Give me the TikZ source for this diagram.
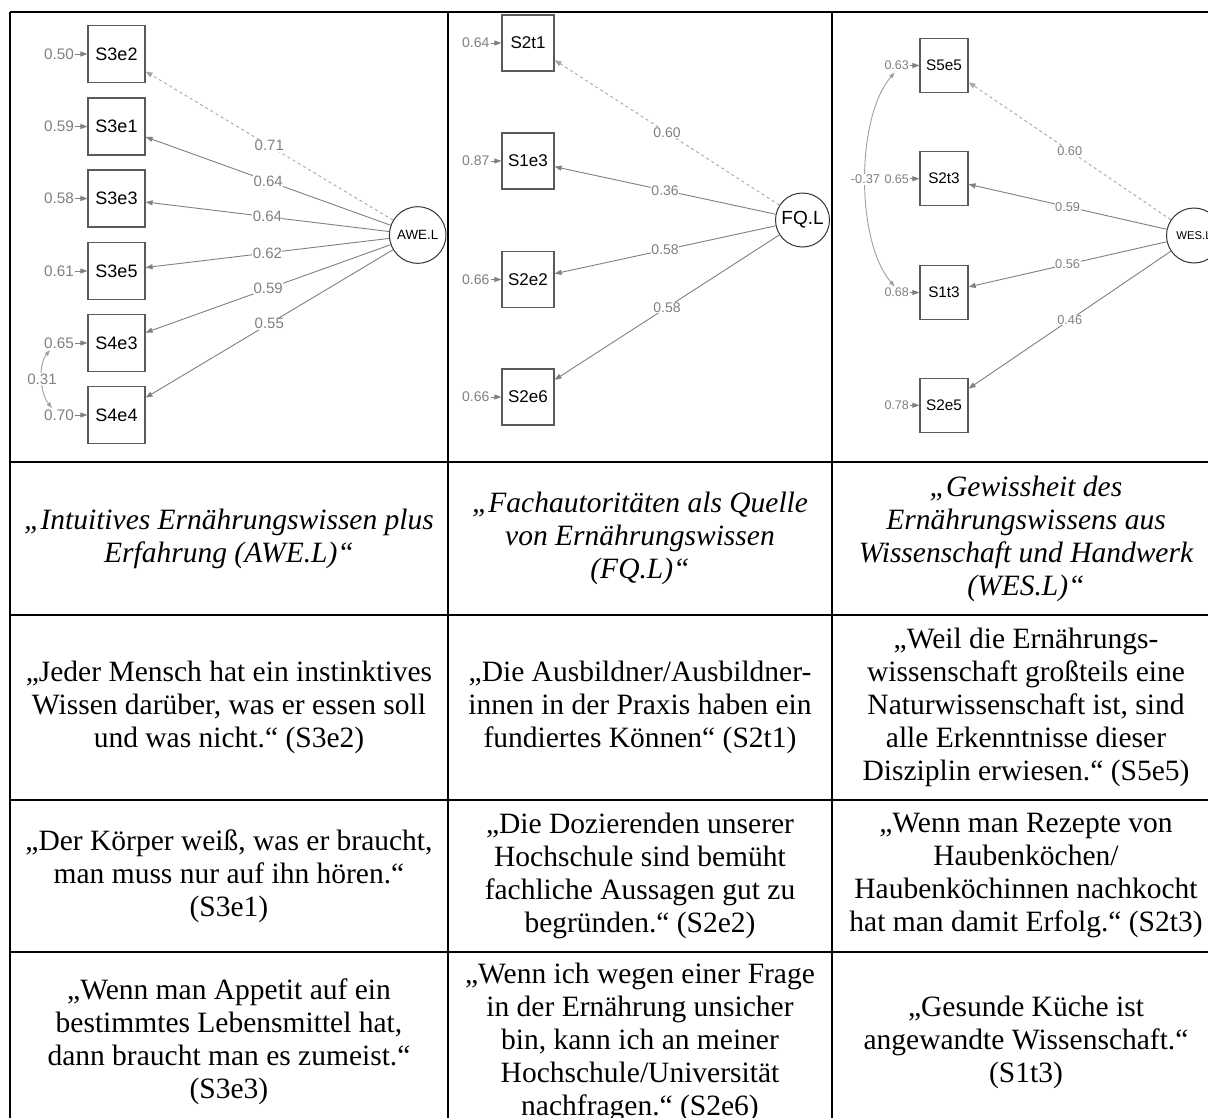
\documentclass[tikz,border=0pt]{standalone}
\usepackage{fontspec}
\setmainfont{Liberation Serif}
\setsansfont{Liberation Sans}
\usepackage{xcolor}
\usepackage{tikz}
\usetikzlibrary{calc,arrows.meta}
\definecolor{semgray}{HTML}{808080}
\definecolor{boxline}{HTML}{5A5A5A}
\newcommand{\semfont}[1]{\fontsize{#1}{#1}\selectfont\sffamily}
\tikzset{box/.style={draw=boxline,line width=1.2pt,inner sep=0pt},
  lat/.style={circle,draw=black!80,line width=1pt,inner sep=0pt},
  err/.style={text=semgray,inner sep=1pt},
  lod/.style={draw=semgray,line width=0.9pt,-{Triangle[length=7pt,width=5pt]}},
  lbl/.style={midway,fill=white,text=semgray,inner sep=0.5pt},
  cov/.style={draw=semgray!75,line width=0.9pt,{Triangle[length=6pt,width=4pt]}-{Triangle[length=6pt,width=4pt]}},
  rule/.style={line width=2.2pt},
  cell/.style={align=center,font=\fontsize{29.5}{33}\selectfont},
  head/.style={align=center,font=\fontsize{29.5}{33}\selectfont\itshape}}

\begin{document}
\begin{tikzpicture}[x=1pt,y=-1pt]
\useasboundingbox (0,0) rectangle (1208,1117);
\fill[white] (0,0) rectangle (1208,1117);
% table
\draw[rule] (10,12) -- (1220,12); \draw[rule] (10,12) -- (10,1125);
\draw[rule] (448,12) -- (448,1125); \draw[rule] (832,12) -- (832,1125);
\draw[rule] (10,462) -- (1220,462); \draw[rule] (10,615) -- (1220,615);
\draw[rule] (10,800) -- (1220,800); \draw[rule] (10,952) -- (1220,952);

% AWE.L
\begin{scope}[box/.append style={minimum width=57,minimum height=57,font=\semfont{18}},
  err/.append style={font=\semfont{15.3}},lbl/.append style={font=\semfont{15}}]
\node[lat,minimum size=56.6,font=\semfont{13.4}] (awe) at (417.7,235) {AWE.L};
\node[box] (s3e2) at (116.5,54) {S3e2}; \node[box] (s3e1) at (116.5,126.5) {S3e1};
\node[box] (s3e3) at (116.5,198.5) {S3e3}; \node[box] (s3e5) at (116.5,271) {S3e5};
\node[box] (s4e3) at (116.5,343) {S4e3}; \node[box] (s4e4) at (116.5,415) {S4e4};
\node[err] (a1) at (59,54) {0.50}; \node[err] (a2) at (59,126.5) {0.59};
\node[err] (a3) at (59,198.5) {0.58}; \node[err] (a4) at (59,271) {0.61};
\node[err] (a5) at (59,343) {0.65}; \node[err] (a6) at (59,415) {0.70};
\draw[lod] (a1) -- (s3e2); \draw[lod] (a2) -- (s3e1); \draw[lod] (a3) -- (s3e3);
\draw[lod] (a4) -- (s3e5); \draw[lod] (a5) -- (s4e3); \draw[lod] (a6) -- (s4e4);
\draw[lod,dashed,draw=semgray!70] (awe) -- node[lbl] {0.71} (s3e2);
\draw[lod] (awe) -- node[lbl] {0.64} (s3e1); \draw[lod] (awe) -- node[lbl] {0.64} (s3e3);
\draw[lod] (awe) -- node[lbl] {0.62} (s3e5); \draw[lod] (awe) -- node[lbl] {0.59} (s4e3);
\draw[lod] (awe) -- node[lbl] {0.55} (s4e4);
\draw[cov] ($(a5)+(-9,7)$) .. controls +(-12,15) and +(-12,-15) .. ($(a6)+(-7,-7)$) node[lbl] {0.31};
\end{scope}

% FQ.L
\begin{scope}[box/.append style={minimum width=52,minimum height=56,font=\semfont{17}},
  err/.append style={font=\semfont{14}},lbl/.append style={font=\semfont{14}}]
\node[lat,minimum size=54,font=\semfont{19}] (fq) at (802.5,220) {FQ.L};
\node[box] (s2t1) at (528,43) {S2t1}; \node[box] (s1e3) at (528,161) {S1e3};
\node[box] (s2e2) at (528,279.5) {S2e2}; \node[box] (s2e6) at (528,397) {S2e6};
\node[err] (f1) at (475.7,43) {0.64}; \node[err] (f2) at (475.7,161) {0.87};
\node[err] (f3) at (475.7,279.5) {0.66}; \node[err] (f4) at (475.7,397) {0.66};
\draw[lod] (f1) -- (s2t1); \draw[lod] (f2) -- (s1e3); \draw[lod] (f3) -- (s2e2); \draw[lod] (f4) -- (s2e6);
\draw[lod,dashed,draw=semgray!70] (fq) -- node[lbl] {0.60} (s2t1);
\draw[lod] (fq) -- node[lbl] {0.36} (s1e3); \draw[lod] (fq) -- node[lbl] {0.58} (s2e2);
\draw[lod] (fq) -- node[lbl] {0.58} (s2e6);
\end{scope}

% WES.L
\begin{scope}[box/.append style={minimum width=48,minimum height=54,font=\semfont{15.3}},
  err/.append style={font=\semfont{12.5}},lbl/.append style={font=\semfont{12.8}}]
\node[lat,minimum size=55,font=\semfont{11.3}] (wes) at (1194,235.5) {WES.L};
\node[box] (s5e5) at (944,65.5) {S5e5}; \node[box] (s2t3) at (944,178.7) {S2t3};
\node[box] (s1t3) at (944,292.5) {S1t3}; \node[box] (s2e5) at (944,405.3) {S2e5};
\node[err] (w1) at (896.7,65.5) {0.63}; \node[err] (w2) at (896.7,178.7) {0.65};
\node[err] (w3) at (896.7,292.5) {0.68}; \node[err] (w4) at (896.7,405.3) {0.78};
\draw[lod] (w1) -- (s5e5); \draw[lod] (w2) -- (s2t3); \draw[lod] (w3) -- (s1t3); \draw[lod] (w4) -- (s2e5);
\draw[lod,dashed,draw=semgray!70] (wes) -- node[lbl] {0.60} (s5e5);
\draw[lod] (wes) -- node[lbl] {0.59} (s2t3); \draw[lod] (wes) -- node[lbl] {0.56} (s1t3);
\draw[lod] (wes) -- node[lbl] {0.46} (s2e5);
\draw[cov] ($(w1)+(-2,7)$) .. controls +(-39,45) and +(-39,-45) .. ($(w3)+(-2,-6)$) node[lbl] {-0.37};
\end{scope}

% factor names
\node[head] (h1) at (229,538.5) {„Intuitives Ernährungswissen plus\\Erfahrung (AWE.L)“};
\node[head] (h2) at (640,538.5) {„Fachautoritäten als Quelle\\von Ernährungswissen\\(FQ.L)“};
\node[head] (h3) at (1026,538.5) {„Gewissheit des\\Ernährungswissens aus\\Wissenschaft und Handwerk\\(WES.L)“};
% items
\node[cell] (q11) at (229,707.5) {„Jeder Mensch hat ein instinktives\\Wissen darüber, was er essen soll\\und was nicht.“ (S3e2)};
\node[cell] (q12) at (640,707.5) {„Die Ausbildner/Ausbildner-\\innen in der Praxis haben ein\\fundiertes Können“ (S2t1)};
\node[cell] (q13) at (1026,707.5) {„Weil die Ernährungs-\\wissenschaft großteils eine\\Naturwissenschaft ist, sind\\alle Erkenntnisse dieser\\Disziplin erwiesen.“ (S5e5)};
\node[cell] (q21) at (229,876) {„Der Körper weiß, was er braucht,\\man muss nur auf ihn hören.“\\(S3e1)};
\node[cell] (q22) at (640,876) {„Die Dozierenden unserer\\Hochschule sind bemüht\\fachliche Aussagen gut zu\\begründen.“ (S2e2)};
\node[cell] (q23) at (1026,876) {„Wenn man Rezepte von\\Haubenköchen/\\Haubenköchinnen nachkocht\\hat man damit Erfolg.“ (S2t3)};
\node[cell] (q31) at (229,1042) {„Wenn man Appetit auf ein\\bestimmtes Lebensmittel hat,\\dann braucht man es zumeist.“\\(S3e3)};
\node[cell] (q32) at (640,1042) {„Wenn ich wegen einer Frage\\in der Ernährung unsicher\\bin, kann ich an meiner\\Hochschule/Universität\\nachfragen.“ (S2e6)};
\node[cell] (q33) at (1026,1042) {„Gesunde Küche ist\\angewandte Wissenschaft.“\\(S1t3)};
\end{tikzpicture}
\end{document}
